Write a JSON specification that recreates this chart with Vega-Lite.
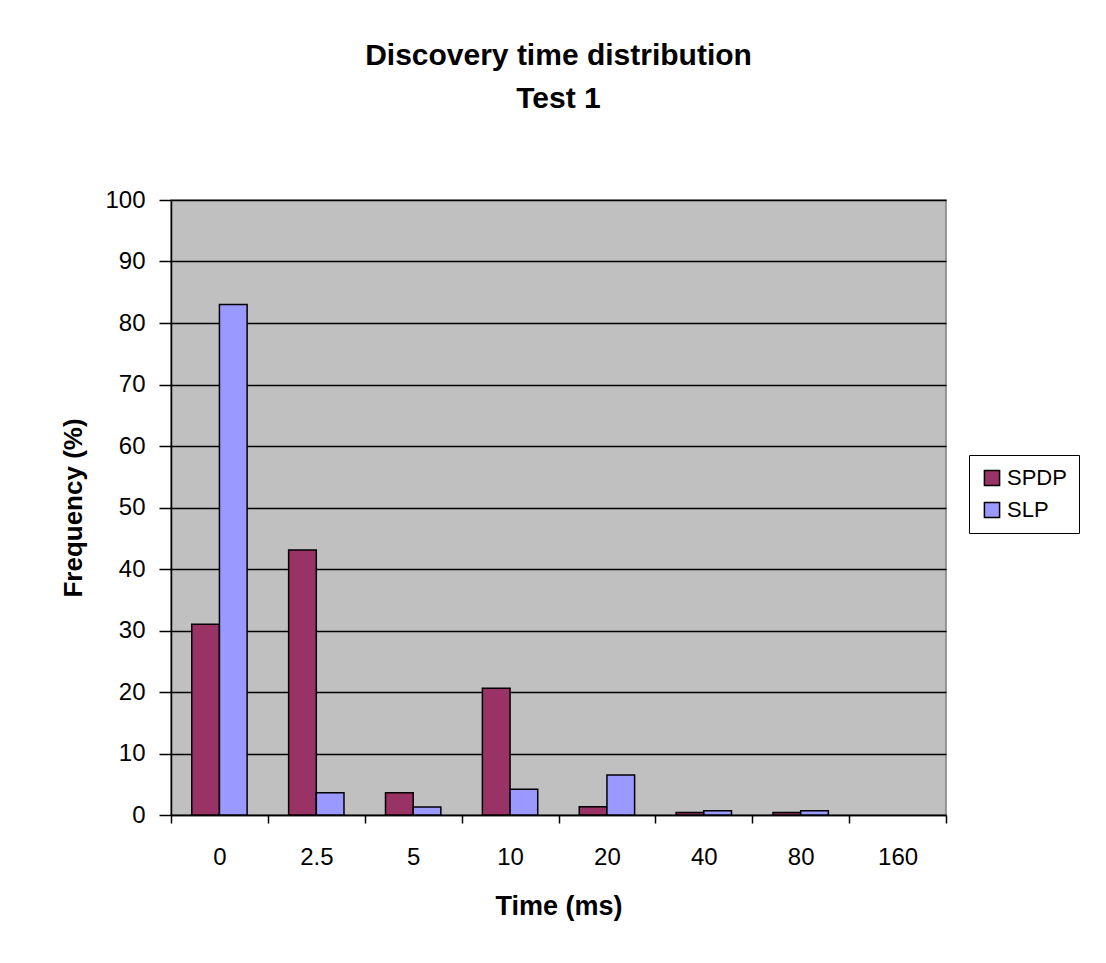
{
  "$schema": "https://vega.github.io/schema/vega-lite/v6.json",
  "width": 775,
  "height": 615,
  "autosize": {"type": "none"},
  "padding": {"left": 171, "top": 200, "right": 160, "bottom": 148},
  "background": "white",
  "title": {
    "text": ["Discovery time distribution", "Test 1"],
    "font": "Liberation Sans",
    "fontSize": 30,
    "fontWeight": "bold",
    "color": "black",
    "lineHeight": 43,
    "anchor": "middle",
    "frame": "group",
    "offset": 74
  },
  "data": {
    "values": [
      {"time": "0", "protocol": "SPDP", "freq": 31.0},
      {"time": "0", "protocol": "SLP", "freq": 83.0},
      {"time": "2.5", "protocol": "SPDP", "freq": 43.1},
      {"time": "2.5", "protocol": "SLP", "freq": 3.6},
      {"time": "5", "protocol": "SPDP", "freq": 3.6},
      {"time": "5", "protocol": "SLP", "freq": 1.3},
      {"time": "10", "protocol": "SPDP", "freq": 20.6},
      {"time": "10", "protocol": "SLP", "freq": 4.2},
      {"time": "20", "protocol": "SPDP", "freq": 1.35},
      {"time": "20", "protocol": "SLP", "freq": 6.5},
      {"time": "40", "protocol": "SPDP", "freq": 0.4},
      {"time": "40", "protocol": "SLP", "freq": 0.7},
      {"time": "80", "protocol": "SPDP", "freq": 0.4},
      {"time": "80", "protocol": "SLP", "freq": 0.7},
      {"time": "160", "protocol": "SPDP", "freq": 0},
      {"time": "160", "protocol": "SLP", "freq": 0}
    ]
  },
  "transform": [{"filter": "datum.freq > 0"}],
  "mark": {"type": "bar", "stroke": "black", "strokeWidth": 1.5},
  "encoding": {
    "x": {
      "field": "time",
      "type": "nominal",
      "sort": ["0", "2.5", "5", "10", "20", "40", "80", "160"],
      "scale": {
        "domain": ["0", "2.5", "5", "10", "20", "40", "80", "160"],
        "paddingInner": 0,
        "paddingOuter": 0
      },
      "axis": {
        "title": "Time (ms)",
        "titleFont": "Liberation Sans",
        "titleFontSize": 27,
        "titleFontWeight": "bold",
        "titleColor": "black",
        "titlePadding": 24,
        "labelFont": "Liberation Sans",
        "labelFontSize": 24,
        "labelColor": "black",
        "labelAngle": 0,
        "labelPadding": 22,
        "tickBand": "extent",
        "tickSize": 8,
        "tickColor": "black",
        "tickWidth": 1.5,
        "domainColor": "black",
        "domainWidth": 1.5,
        "grid": false
      }
    },
    "xOffset": {
      "field": "protocol",
      "type": "nominal",
      "sort": ["SPDP", "SLP"],
      "scale": {"domain": ["SPDP", "SLP"], "paddingInner": 0, "paddingOuter": 0.75}
    },
    "y": {
      "field": "freq",
      "type": "quantitative",
      "scale": {"domain": [0, 100], "nice": false},
      "axis": {
        "title": "Frequency (%)",
        "titleFont": "Liberation Sans",
        "titleFontSize": 26,
        "titleFontWeight": "bold",
        "titleColor": "black",
        "titlePadding": 18,
        "labelFont": "Liberation Sans",
        "labelFontSize": 24,
        "labelColor": "black",
        "labelPadding": 14,
        "values": [0, 10, 20, 30, 40, 50, 60, 70, 80, 90, 100],
        "tickSize": 12,
        "tickColor": "black",
        "tickWidth": 1.5,
        "domainColor": "black",
        "domainWidth": 1.5,
        "grid": true,
        "gridColor": "black",
        "gridWidth": 1.5,
        "gridOpacity": 1
      }
    },
    "color": {
      "field": "protocol",
      "type": "nominal",
      "sort": ["SPDP", "SLP"],
      "scale": {"domain": ["SPDP", "SLP"], "range": ["#993366", "#9999FF"]},
      "legend": {
        "title": null,
        "orient": "none",
        "legendX": 798,
        "legendY": 255,
        "strokeColor": "black",
        "fillColor": "white",
        "padding": 12,
        "symbolType": "square",
        "symbolSize": 230,
        "symbolStrokeColor": "black",
        "symbolStrokeWidth": 1.5,
        "labelFont": "Liberation Sans",
        "labelFontSize": 22,
        "labelColor": "black",
        "rowPadding": 10
      }
    }
  },
  "config": {
    "view": {"fill": "#C0C0C0", "stroke": "#808080", "strokeWidth": 1.5}
  }
}
